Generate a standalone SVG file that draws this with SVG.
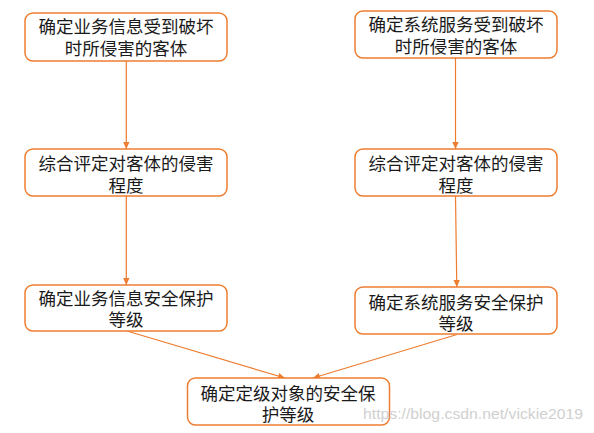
<svg xmlns="http://www.w3.org/2000/svg" width="594" height="433" viewBox="0 0 594 433">
<defs>
<style>
.box{fill:#fff;stroke:#ED7D31;stroke-width:1.5}
.t{font-family:"Liberation Sans","Noto Sans CJK SC",sans-serif;font-size:17.5px;fill:#1a1a1a;text-anchor:middle}
.c{stroke:#ED7D31;stroke-width:1.2;fill:none;marker-end:url(#ah)}
.wm{font-family:"Liberation Sans",sans-serif;font-size:15.5px;fill:#d0d0d0}
</style>
<marker id="ah" markerUnits="userSpaceOnUse" markerWidth="8" markerHeight="8" viewBox="0 0 8 8" refX="7" refY="4" orient="auto">
<path d="M0,0.8 L7,4 L0,7.2 Z" fill="#ED7D31"/>
</marker>
</defs>
<rect width="594" height="433" fill="#fff"/>
<g id="connectors">
<line class="c" x1="126.3" y1="61" x2="126.3" y2="149"/>
<line class="c" x1="455.5" y1="58" x2="455.5" y2="149"/>
<line class="c" x1="126.3" y1="196" x2="126.3" y2="285"/>
<line class="c" x1="455.5" y1="196" x2="456.8" y2="287"/>
<line class="c" x1="127" y1="331" x2="285" y2="378"/>
<line class="c" x1="457" y1="334.5" x2="313" y2="378"/>
</g>
<g id="n1">
<rect class="box" x="25" y="13" width="202" height="48" rx="8"/>
<text class="t" x="126" y="32.5">确定业务信息受到破坏</text>
<text class="t" x="126" y="54.5">时所侵害的客体</text>
</g>
<g id="n2">
<rect class="box" x="355" y="11" width="202" height="47" rx="8"/>
<text class="t" x="456" y="30.5">确定系统服务受到破坏</text>
<text class="t" x="456" y="52.5">时所侵害的客体</text>
</g>
<g id="n3">
<rect class="box" x="25" y="149" width="202" height="47" rx="8"/>
<text class="t" x="126" y="169.5">综合评定对客体的侵害</text>
<text class="t" x="126" y="191.5">程度</text>
</g>
<g id="n4">
<rect class="box" x="355" y="149" width="202" height="47" rx="8"/>
<text class="t" x="456" y="169.5">综合评定对客体的侵害</text>
<text class="t" x="456" y="191.5">程度</text>
</g>
<g id="n5">
<rect class="box" x="25" y="285" width="202" height="46" rx="8"/>
<text class="t" x="126" y="304.5">确定业务信息安全保护</text>
<text class="t" x="126" y="325.5">等级</text>
</g>
<g id="n6">
<rect class="box" x="355" y="287" width="202" height="47" rx="8"/>
<text class="t" x="456" y="308.5">确定系统服务安全保护</text>
<text class="t" x="456" y="329.5">等级</text>
</g>
<g id="n7">
<rect class="box" x="187.5" y="378" width="202" height="47" rx="8"/>
<text class="t" x="288" y="399.5">确定定级对象的安全保</text>
<text class="t" x="288" y="420.5">护等级</text>
</g>
<text class="wm" x="363" y="419" textLength="220" lengthAdjust="spacingAndGlyphs">https://blog.csdn.net/vickie2019</text>
</svg>
